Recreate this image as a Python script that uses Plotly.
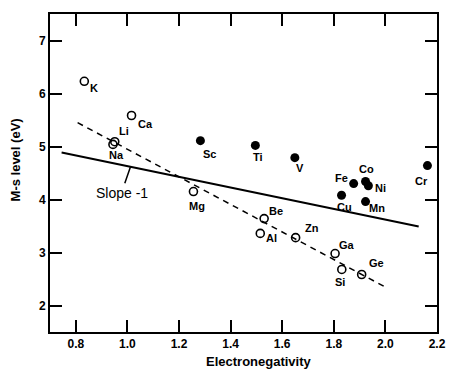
import plotly.graph_objects as go

# --- data ---
open_elements = ["K", "Ca", "Li", "Na", "Mg", "Be", "Al", "Zn", "Ga", "Si", "Ge"]
open_x = [0.833, 1.016, 0.951, 0.944, 1.256, 1.530, 1.515, 1.652, 1.805, 1.831, 1.908]
open_y = [6.23, 5.585, 5.09, 5.04, 4.15, 3.64, 3.36, 3.28, 2.98, 2.68, 2.585]

filled_elements = ["Sc", "Ti", "V", "Fe", "Co", "Ni", "Cu", "Mn", "Cr"]
filled_x = [1.283, 1.496, 1.649, 1.877, 1.923, 1.934, 1.830, 1.923, 2.163]
filled_y = [5.11, 5.02, 4.79, 4.30, 4.34, 4.26, 4.08, 3.96, 4.64]

solid_fit_x = [0.745, 2.129]
solid_fit_y = [4.887, 3.49]
dashed_fit_x = [0.807, 1.995]
dashed_fit_y = [5.45, 2.36]

x_ticks = [0.8, 1.0, 1.2, 1.4, 1.6, 1.8, 2.0, 2.2]
x_tick_labels = ["0.8", "1.0", "1.2", "1.4", "1.6", "1.8", "2.0", "2.2"]
y_ticks = [2, 3, 4, 5, 6, 7]

# label offsets in pixels (dx right, dy down)
label_offsets = {
    "K": (10, 7), "Ca": (14, 8), "Li": (9, -11), "Na": (4, 11), "Mg": (4, 14),
    "Be": (12, -8), "Al": (11, 5), "Zn": (16, -10), "Ga": (12, -9), "Si": (-2, 13),
    "Ge": (15, -12), "Sc": (9, 13), "Ti": (3, 12), "V": (5, 10), "Fe": (-12, -6),
    "Co": (1, -12), "Ni": (12, 2), "Cu": (3, 12), "Mn": (11, 6), "Cr": (-6, 15),
}

FAM = "Liberation Sans, Arial, sans-serif"
BOLD = dict(family=FAM, size=12, color="black", weight="bold")

fig = go.Figure()

fig.add_trace(go.Scatter(x=solid_fit_x, y=solid_fit_y, mode="lines",
                         line=dict(color="black", width=2), hoverinfo="skip"))
fig.add_trace(go.Scatter(x=dashed_fit_x, y=dashed_fit_y, mode="lines",
                         line=dict(color="black", width=1.5, dash="6px,5px"), hoverinfo="skip"))
fig.add_trace(go.Scatter(x=open_x, y=open_y, mode="markers",
                         marker=dict(symbol="circle-open", size=8, color="black",
                                     line=dict(width=1.6, color="black"))))
fig.add_trace(go.Scatter(x=filled_x, y=filled_y, mode="markers",
                         marker=dict(symbol="circle", size=9, color="black")))

annotations = []
for names, xs, ys in [(open_elements, open_x, open_y), (filled_elements, filled_x, filled_y)]:
    for n, xv, yv in zip(names, xs, ys):
        dx, dy = label_offsets[n]
        annotations.append(dict(x=xv, y=yv, text=n, showarrow=False,
                                xshift=dx, yshift=-dy,
                                font=dict(family=FAM, size=11, color="black", weight="bold")))

# slope annotation with pointer line
annotations.append(dict(x=1.012, y=4.62, text="Slope -1", showarrow=True,
                        arrowhead=0, arrowwidth=1.5, arrowcolor="black",
                        ax=-9, ay=26,
                        font=dict(family=FAM, size=14, color="black")))

# axis titles
annotations.append(dict(xref="paper", yref="paper", x=0.54, y=-0.092, text="Electronegativity",
                        showarrow=False, yanchor="middle",
                        font=dict(family=FAM, size=13, color="black", weight="bold")))
annotations.append(dict(xref="paper", yref="paper", x=-0.09, y=0.54, text="M-s level (eV)",
                        showarrow=False, textangle=-90, xanchor="center",
                        font=dict(family=FAM, size=13, color="black", weight="bold")))

axis_common = dict(showgrid=False, zeroline=False, showline=True, linecolor="black",
                   linewidth=2, mirror="ticks", ticks="inside", ticklen=12,
                   tickwidth=2, tickcolor="black", tickfont=BOLD)

fig.update_xaxes(range=[0.7, 2.2], tickvals=x_ticks, ticktext=x_tick_labels, **axis_common)
fig.update_yaxes(range=[1.5, 7.5], tickvals=y_ticks, **axis_common)

fig.update_layout(width=458, height=374, margin=dict(l=50, r=12, t=14, b=42),
                  plot_bgcolor="white", paper_bgcolor="white", showlegend=False,
                  annotations=annotations)

fig.write_html("out.html")
